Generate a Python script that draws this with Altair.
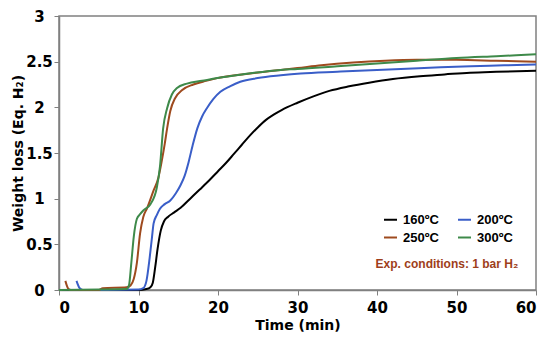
import altair as alt
import pandas as pd

series = ["160ºC", "200ºC", "250ºC", "300ºC"]
colors = ["#000000", "#3a5ec8", "#9e4a1e", "#3e8a4a"]

t160 = [0, 5, 10, 11, 11.5, 11.8, 12.1, 12.4, 12.8, 13.2, 13.7, 14.5, 15.3, 16.5, 17.7,
        19, 20, 21, 22, 23, 24, 25, 26, 27, 28, 30, 32, 34, 36.5, 39, 42, 45.4, 48.5, 51.7, 55, 60]
w160 = [0, 0, 0, 0.01, 0.03, 0.08, 0.25, 0.45, 0.65, 0.75, 0.80, 0.85, 0.90, 1.0, 1.10,
        1.21, 1.30, 1.39, 1.49, 1.59, 1.69, 1.78, 1.86, 1.92, 1.97, 2.05, 2.12, 2.18, 2.23, 2.27, 2.31, 2.34, 2.36, 2.38, 2.39, 2.40]

t200 = [2.2, 2.6, 3, 6, 10, 10.6, 11.0, 11.4, 11.7, 11.9, 12.3, 12.7, 13.3, 14, 14.7, 15.3, 15.8,
        16.3, 16.8, 17.4, 18, 18.6, 19.4, 20.3, 21.5, 22.8, 25, 27.9, 30.4, 35, 40, 43, 48, 51.8, 56, 60]
w200 = [0.1, 0.02, 0, 0, 0.005, 0.02, 0.1, 0.35, 0.58, 0.73, 0.82, 0.89, 0.94, 0.98, 1.06, 1.15, 1.25,
        1.40, 1.58, 1.77, 1.90, 1.99, 2.09, 2.17, 2.23, 2.28, 2.32, 2.35, 2.37, 2.39, 2.41, 2.42, 2.44, 2.45, 2.46, 2.47]

t250 = [0.8, 1.2, 1.5, 5, 5.5, 8.5, 9.0, 9.4, 9.8, 10.2, 10.6, 11.1, 11.9, 12.5, 12.9, 13.3, 13.6,
        14.0, 14.6, 15.5, 16.9, 18.5, 19.9, 23, 27.9, 30, 33, 37, 41, 45, 50, 55, 60]
w250 = [0.1, 0.01, 0, 0, 0.02, 0.03, 0.05, 0.12, 0.30, 0.62, 0.80, 0.90, 1.09, 1.23, 1.40, 1.60, 1.77,
        1.96, 2.10, 2.19, 2.25, 2.29, 2.32, 2.36, 2.41, 2.43, 2.46, 2.49, 2.51, 2.52, 2.52, 2.51, 2.50]

t300 = [0, 5, 8.5, 8.8, 9.1, 9.4, 9.8, 10.2, 10.6, 11.5, 12.3, 12.7, 13.1, 13.6, 14.2, 14.8, 16.1,
        18, 19.9, 23, 27.9, 30, 35, 40, 45, 50, 55, 60]
w300 = [0, 0.005, 0.01, 0.05, 0.3, 0.58, 0.78, 0.83, 0.87, 0.94, 1.12, 1.35, 1.77, 1.99, 2.14, 2.21, 2.26,
        2.29, 2.32, 2.36, 2.41, 2.42, 2.45, 2.48, 2.51, 2.54, 2.56, 2.58]

x_ticks = list(range(0, 61, 5))
y_ticks = [0, 0.5, 1, 1.5, 2, 2.5, 3]

note_text = ["Exp. conditions: 1 bar H₂"]
note_t = [48.8]
note_w = [0.29]

rows = []
for name, xs, ys in zip(series, [t160, t200, t250, t300], [w160, w200, w250, w300]):
    for xv, yv in zip(xs, ys):
        rows.append({"t": xv, "w": yv, "s": name})
df = pd.DataFrame(rows)

xscale = alt.Scale(domain=[0, 60], nice=False)
yscale = alt.Scale(domain=[0, 3], nice=False)

lines = alt.Chart(df).mark_line(strokeWidth=2, interpolate="monotone").encode(
    x=alt.X("t:Q", scale=xscale,
            axis=alt.Axis(values=x_ticks, title="Time (min)", labelPadding=5, titlePadding=3,
                          labelExpr="datum.value % 10 == 0 ? datum.label : ''")),
    y=alt.Y("w:Q", scale=yscale,
            axis=alt.Axis(values=y_ticks, format="~g", title="Weight loss (Eq. H₂)",
                          labelAlign="center", labelPadding=15, titlePadding=0)),
    color=alt.Color("s:N", sort=series,
                    scale=alt.Scale(domain=series, range=colors),
                    legend=alt.Legend(title=None, orient="none", legendX=324, legendY=196,
                                      columns=2, direction="horizontal",
                                      symbolType="stroke", symbolSize=169,
                                      symbolStrokeWidth=2, labelFont="Liberation Sans",
                                      labelFontWeight="bold", labelFontSize=13, labelColor="black",
                                      columnPadding=15, rowPadding=3, labelOffset=5, padding=0)),
)

note = alt.Chart(pd.DataFrame({"t": note_t, "w": note_w, "label": note_text})).mark_text(
    font="Liberation Sans", fontWeight="bold", fontSize=12, color="#9e3e1a",
    align="center", baseline="middle"
).encode(x=alt.X("t:Q", scale=xscale), y=alt.Y("w:Q", scale=yscale), text="label:N")

chart = alt.layer(lines, note).properties(
    width=477, height=274,
    autosize=alt.AutoSizeParams(type="none"),
    padding={"left": 51, "top": 8, "right": 6, "bottom": 43},
).configure_axis(
    labelFont="DejaVu Sans", labelFontWeight="bold", labelFontSize=15, labelColor="black",
    titleFont="DejaVu Sans", titleFontWeight="bold", titleFontSize=14, titleColor="black",
    domainColor="#808080", tickColor="#808080", domainWidth=1.5, tickSize=5,
    grid=False,
).configure_view(stroke="#808080", strokeWidth=1.5)

chart.save("out.html", embed_options={"renderer": "svg", "actions": False})
